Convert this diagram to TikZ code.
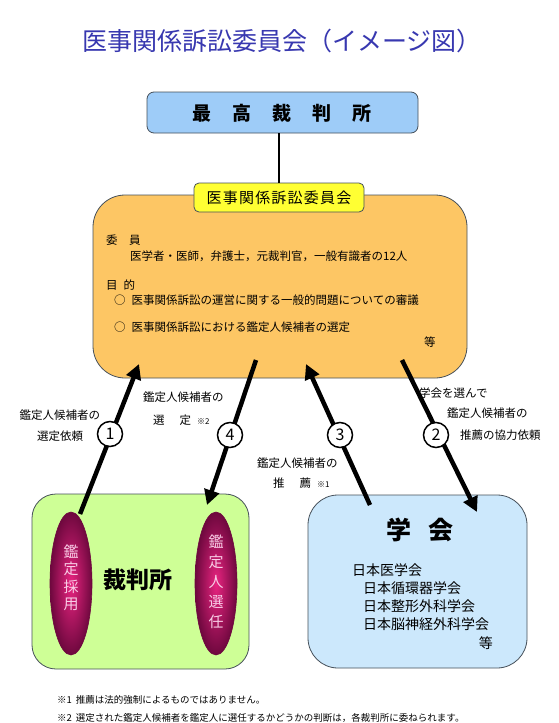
\documentclass[tikz,border=0pt]{standalone}
\usepackage{fontspec}
\setmainfont{Noto Sans CJK JP}
\usetikzlibrary{arrows.meta,shapes.geometric}
\definecolor{titleblue}{RGB}{56,56,176}
\definecolor{skyblue}{RGB}{158,204,248}
\definecolor{yel}{RGB}{255,255,51}
\definecolor{orng}{RGB}{253,198,100}
\definecolor{lgreen}{RGB}{206,255,150}
\definecolor{lblue}{RGB}{204,232,252}
\definecolor{magout}{RGB}{110,8,62}
\definecolor{magin}{RGB}{232,36,128}
\definecolor{ellt}{RGB}{248,205,230}
\definecolor{edge}{RGB}{70,80,90}
\begin{document}
\begin{tikzpicture}[x=1pt,y=-1pt,
  box/.style={draw=edge, line width=0.8pt, rectangle, inner sep=0pt},
  bigarrow/.style={line width=4.5pt, -{Triangle[length=15pt,width=15pt]}},
  num/.style={circle, draw=black, line width=1.5pt, fill=white, minimum size=25pt, inner sep=0pt, font=\fontsize{16}{16}\selectfont},
  lbl/.style={font=\fontsize{11.5}{14}\selectfont, inner sep=0pt},
  body/.style={font=\fontsize{11.5}{14}\selectfont, inner sep=0pt, anchor=west},
  oval/.style={ellipse, draw=magout, line width=0.6pt, inner sep=0pt, minimum width=42pt, minimum height=143pt, inner color=magin, outer color=magout},
  ovaltext/.style={text=ellt, align=center, inner sep=0pt},
]
\useasboundingbox (0,0) rectangle (558,723);
\fill[white] (0,0) rectangle (558,723);

% title
\node[font=\fontsize{25}{25}\selectfont, text=titleblue, inner sep=0pt] (title) at (282,41) {医事関係訴訟委員会（イメージ図）};

% supreme court
\node[box, fill=skyblue, rounded corners=7pt, minimum width=271pt, minimum height=41pt] (supreme) at (282.5,112.5) {};
\node[font=\fontsize{19}{19}\bfseries, inner sep=0pt] (supremet) at (282,113) {最\hspace{21pt}高\hspace{21pt}裁\hspace{21pt}判\hspace{21pt}所};

% committee box
\node[box, fill=orng, rounded corners=32pt, minimum width=374pt, minimum height=183pt] (comm) at (280,286.5) {};
\node[box, fill=yel, rounded corners=5pt, minimum width=170pt, minimum height=29pt] (label) at (279,197.5) {};
\node[font=\fontsize{15}{15}\selectfont\addfontfeature{LetterSpace=8}, inner sep=0pt] (labelt) at (279,198) {医事関係訴訟委員会};
\draw[line width=1.5pt] (supreme.south -| label.north) -- (label.north);

\node[body] (t1) at (106,240) {委　員};
\node[body] (t2) at (130,256) {医学者・医師，弁護士，元裁判官，一般有識者の12人};
\node[body] (t3) at (106,285) {目\hspace{6pt}的};
\node[body] (t4) at (114,300) {○\hspace{6pt}医事関係訴訟の運営に関する一般的問題についての審議};
\node[body] (t5) at (114,327) {○\hspace{6pt}医事関係訴訟における鑑定人候補者の選定};
\node[body] (t6) at (424,342) {等};

% court box
\node[box, fill=lgreen, rounded corners=24pt, minimum width=217pt, minimum height=175pt] (court) at (140.5,581.5) {};
\node[oval] (o1) at (71,583.5) {};
\node[oval] (o2) at (216,583.5) {};
\node[ovaltext, font=\fontsize{15}{17.5}\selectfont] (o1t) at (71,578) {鑑\\定\\採\\用};
\node[ovaltext, font=\fontsize{15}{20}\selectfont] (o2t) at (216,582) {鑑\\定\\人\\選\\任};
\node[font=\fontsize{23}{23}\bfseries, inner sep=0pt] (courtt) at (138,580) {裁判所};

% society box
\node[box, fill=lblue, rounded corners=30pt, minimum width=219pt, minimum height=173pt] (soc) at (417.5,581.5) {};
\node[font=\fontsize{25}{25}\bfseries, inner sep=0pt] (soct) at (420,530) {学\hspace{17pt}会};
\node[font=\fontsize{14}{18}\selectfont, inner sep=0pt, anchor=west] (s1) at (352,570) {日本医学会};
\node[font=\fontsize{14}{18}\selectfont, inner sep=0pt, anchor=west] (s2) at (363,588) {日本循環器学会};
\node[font=\fontsize{14}{18}\selectfont, inner sep=0pt, anchor=west] (s3) at (363,606) {日本整形外科学会};
\node[font=\fontsize{14}{18}\selectfont, inner sep=0pt, anchor=west] (s4) at (363,624) {日本脳神経外科学会};
\node[font=\fontsize{14}{18}\selectfont, inner sep=0pt, anchor=east] (s5) at (493,643) {等};

% arrow end points
\coordinate (a1s) at (80,514);
\coordinate (a1e) at (139,364);
\coordinate (a4s) at (256,360);
\coordinate (a4e) at (207,505);
\coordinate (a3s) at (370,505);
\coordinate (a3e) at (306,364);
\coordinate (a2s) at (402,360);
\coordinate (a2e) at (477,512);

\draw[bigarrow] (a1s) -- (a1e);
\draw[bigarrow] (a4s) -- (a4e);
\draw[bigarrow] (a3s) -- (a3e);
\draw[bigarrow] (a2s) -- (a2e);

\node[num] (n1) at (110,434) {1};
\node[num] (n4) at (230,435) {4};
\node[num] (n3) at (340,435) {3};
\node[num] (n2) at (436,435) {2};

% arrow labels
\node[lbl] (l1a) at (60,415) {鑑定人候補者の};
\node[lbl] (l1b) at (60,436) {選定依頼};
\node[lbl, anchor=west] (l4a) at (143,397) {鑑定人候補者の};
\node[lbl, anchor=west] (l4b) at (153,420) {選\hspace{15pt}定\hspace{6pt}{\fontsize{8}{8}\selectfont ※2}};
\node[lbl, anchor=west] (l3a) at (257,463) {鑑定人候補者の};
\node[lbl, anchor=west] (l3b) at (273,483) {推\hspace{15pt}薦\hspace{6pt}{\fontsize{8}{8}\selectfont ※1}};
\node[lbl, anchor=west] (l2a) at (419,393) {学会を選んで};
\node[lbl, anchor=west] (l2b) at (447,413) {鑑定人候補者の};
\node[lbl, anchor=west] (l2c) at (460,435) {推薦の協力依頼};

% footnotes
\node[font=\fontsize{9.5}{11}\selectfont, inner sep=0pt, anchor=west] (f1) at (57,700) {※1\hspace{4pt}推薦は法的強制によるものではありません。};
\node[font=\fontsize{9.5}{11}\selectfont, inner sep=0pt, anchor=west] (f2) at (57,718) {※2\hspace{4pt}選定された鑑定人候補者を鑑定人に選任するかどうかの判断は，各裁判所に委ねられます。};
\end{tikzpicture}
\end{document}
